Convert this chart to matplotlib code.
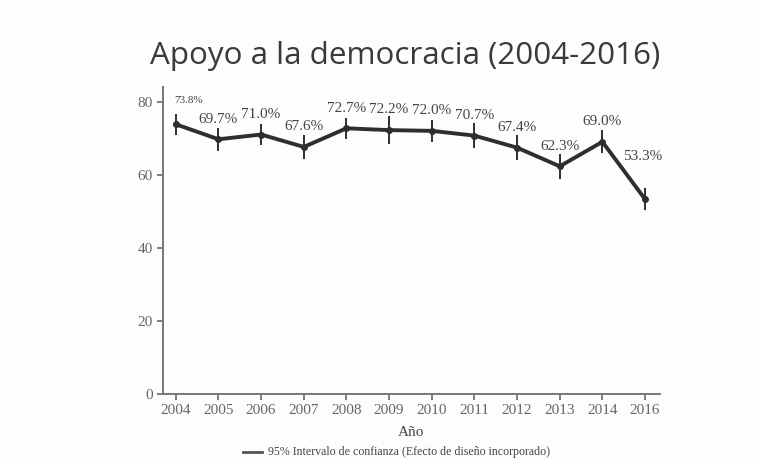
import matplotlib.pyplot as plt
import numpy as np

years = ['2004', '2005', '2006', '2007', '2008', '2009', '2010', '2011', '2012', '2013', '2014', '2016']
apoyo = [73.8, 69.7, 71.0, 67.6, 72.7, 72.2, 72.0, 70.7, 67.4, 62.3, 69.0, 53.3]
err = [2.8, 3.1, 3.0, 3.2, 2.9, 3.9, 3.0, 3.4, 3.5, 3.4, 3.1, 3.0]
yticks = [0, 20, 40, 60, 80]

serif = 'Liberation Serif'
txt = '#444444'
dark = '#2e2e2e'

fig = plt.figure(figsize=(7.59, 4.58), dpi=100)
fig.patch.set_facecolor('#fdfdfd')
ax = fig.add_axes([163/759, 1 - 394/458, (660-163)/759, (394-87)/458])
ax.set_facecolor('#fdfdfd')

x = np.arange(len(years))
ax.errorbar(x, apoyo, yerr=err, color=dark, lw=2.8, marker='o', ms=4,
            elinewidth=1.4, capsize=0, ecolor=dark)

for i, v in enumerate(apoyo):
    lab = f'{v:.1f}%'
    if i == 0:
        # first label is smaller and sits to the right of the point
        ax.annotate(lab, (i, v), xytext=(-1, 15), textcoords='offset points',
                    ha='left', fontsize=8, family=serif, color=txt)
    elif i == len(apoyo) - 1:
        ax.annotate(lab, (i, v), xytext=(-2, 28), textcoords='offset points',
                    ha='center', fontsize=11, family=serif, color=txt)
    else:
        ax.annotate(lab, (i, v), xytext=(0, 12), textcoords='offset points',
                    ha='center', fontsize=11, family=serif, color=txt)

ax.set_xlim(-0.3, 11.35)
ax.set_ylim(0, 84)
ax.set_xticks(x)
ax.set_xticklabels(years)
ax.set_yticks(yticks)
for lbl in ax.get_xticklabels() + ax.get_yticklabels():
    lbl.set_family(serif)
    lbl.set_fontsize(11)
    lbl.set_color(txt)
ax.tick_params(colors='#666666', length=4, width=1.2)
for s in ['top', 'right']:
    ax.spines[s].set_visible(False)
for s in ['left', 'bottom']:
    ax.spines[s].set_color('#777777')
    ax.spines[s].set_linewidth(1.4)

ax.set_xlabel('Año', family=serif, fontsize=11, color=txt, labelpad=6)

fig.text(405/759, 1 - 56/458, 'Apoyo a la democracia (2004-2016)', ha='center', va='center',
         fontsize=22.6, family='Open Sans', color='#3a3a3a')

# legend line + label
fig.add_artist(plt.Line2D([243/759, 262/759], [1 - 452/458, 1 - 452/458], color='#555555', lw=2))
fig.text(268/759, 1 - 452/458, '95% Intervalo de confianza (Efecto de diseño incorporado)',
         ha='left', va='center', fontsize=8.6, family=serif, color=txt)

fig.savefig('out.png', dpi=100, facecolor=fig.get_facecolor())
